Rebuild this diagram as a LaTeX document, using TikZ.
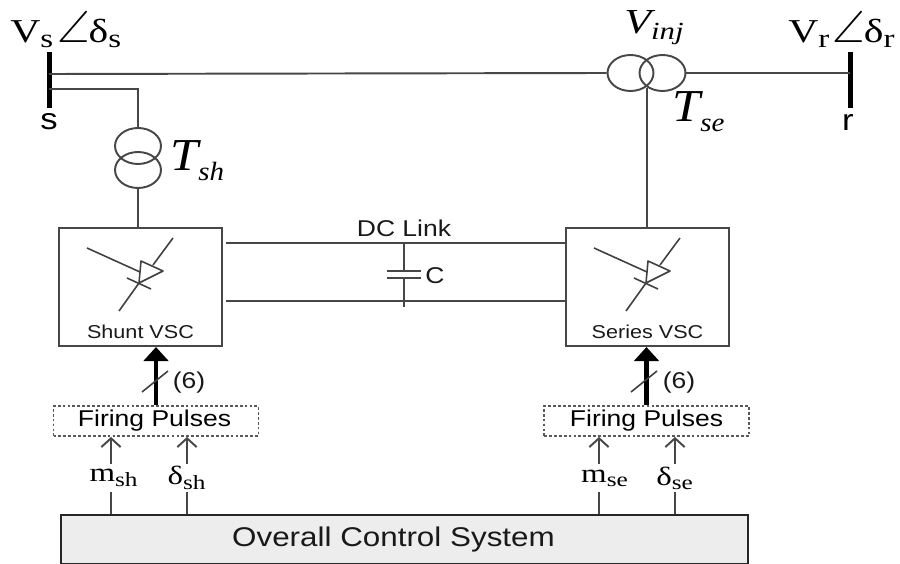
\documentclass[tikz,border=0pt]{standalone}
\usepackage{fontspec}
\usepackage{amssymb}
\setsansfont[FakeStretch=1.16]{Liberation Sans}
\newfontfamily\serifface[FakeStretch=1.25]{Liberation Serif}
\newfontfamily\italface[FakeStretch=1.1]{Liberation Serif}
\usetikzlibrary{shapes.geometric,arrows.meta}
\newcommand{\lowtext}[2]{$_{\mbox{\fontsize{#1}{#1}\selectfont #2}}$}
\newcommand{\dropsub}[1]{\raisebox{-0.2cm}{\fontsize{15}{15}\selectfont #1}}

\begin{document}
\begin{tikzpicture}[x=0.02cm,y=-0.02cm,
    wire/.style={draw=black!72,line width=1.1pt},
    winding/.style={ellipse,draw=black!72,line width=1.1pt,inner sep=0pt,minimum width=0.92cm,minimum height=0.72cm},
    busbar/.style={fill=black,inner sep=0pt,minimum width=0.1cm,minimum height=1.14cm},
    vscbox/.style={draw=black!72,line width=1.2pt,minimum width=3.26cm,minimum height=2.36cm,inner sep=0pt},
    firebox/.style={draw=black!65,line width=1.1pt,dash pattern=on 1.6pt off 1.2pt,minimum width=4.1cm,minimum height=0.6cm,inner sep=0pt,text=black,font=\sffamily\fontsize{13}{15}\selectfont},
    ctrlbox/.style={draw=black!85,fill=black!7,line width=1.5pt,minimum width=13.74cm,minimum height=0.98cm,inner sep=0pt,text=black!90,font=\sffamily\fontsize{15.4}{17}\selectfont},
    sflabel/.style={inner sep=0pt,text=black!90,font=\sffamily\fontsize{13}{15}\selectfont},
    busname/.style={inner sep=0pt,font=\sffamily\fontsize{17}{19}\selectfont},
    vlabel/.style={inner sep=0pt,anchor=base west,font=\serifface\fontsize{19}{21}\selectfont},
    tlabel/.style={inner sep=0pt,anchor=base west,font=\italface\itshape\fontsize{26}{28}\selectfont},
    siglabel/.style={inner sep=0pt,minimum height=0.56cm,font=\serifface\fontsize{15}{17}\selectfont},
    bigarrow/.style={line width=2.8pt,black,-{Triangle[width=14pt,length=8pt]}},
    thinarrow/.style={wire,-{Straight Barb[length=5pt,width=11pt]}}]
    \useasboundingbox (0,0) rectangle (900,564);

    % buses and transformers
    \node[busbar] (busS) at (49,80) {};
    \node[busbar] (busR) at (850,80) {};
    \node[busname] (nameS) at (49,122) {s};
    \node[busname] (nameR) at (848,122) {r};
    \node[winding] (tsh1) at (138,146) {};
    \node[winding] (tsh2) at (138,170) {};
    \node[winding] (tse1) at (630.5,73) {};
    \node[winding] (tse2) at (662.5,73) {};
    \coordinate (lineS) at (49,74);
    \coordinate (tapS) at (49,89);
    \coordinate (lineR) at (850,73);
    \coordinate (tseJoin) at (647,88);

    % converters, pulses and control
    \node[vscbox] (shvsc) at (140.5,287) {};
    \node[vscbox] (sevsc) at (647.5,287) {};
    \node[sflabel,font=\sffamily\fontsize{10.6}{12}\selectfont] (shname) at (140.5,332) {Shunt VSC};
    \node[sflabel,font=\sffamily\fontsize{10.6}{12}\selectfont] (sename) at (647.5,332) {Series VSC};
    \node[firebox] (firesh) at (156,421) {\raisebox{-0.05cm}{Firing Pulses}\hspace*{0.06cm}};
    \node[firebox] (firese) at (646.5,421) {\raisebox{-0.05cm}{Firing Pulses}};
    \node[ctrlbox] (ctrl) at (404.5,539.5) {\raisebox{-0.04cm}{Overall Control System}\hspace*{0.44cm}};

    % line labels
    \node[vlabel] (vs) at (10,43) {V\lowtext{15}{s}\hspace{0.06cm}\scalebox{1.35}{$\angle$}\hspace{-0.02cm}δ\lowtext{15}{s}};
    \node[vlabel] (vr) at (788,43) {V\lowtext{15}{r}\hspace{0.04cm}\scalebox{1.35}{$\angle$}\hspace{-0.02cm}δ\lowtext{15}{r}};
    \node[vlabel,font=\serifface\itshape\fontsize{20}{22}\selectfont] (vinj) at (624,34) {V\lowtext{14}{inj}};
    \node[tlabel] (tshname) at (170,171) {T\dropsub{sh}};
    \node[tlabel] (tsename) at (672,122) {T\dropsub{se}};
    \node[sflabel] (dclabel) at (404,228) {DC Link};
    \node[sflabel] (clabel) at (435,276) {C};
    \node[sflabel] (nsh) at (189,383) {(6)};
    \node[sflabel] (nse) at (679,383) {(6)};
    \node[siglabel] (msh) at (111,478) {\hspace*{0.12cm}m\lowtext{11.5}{sh}};
    \node[siglabel] (dsh) at (187,478) {δ\lowtext{11.5}{sh}};
    \node[siglabel] (mse) at (599,478) {\hspace*{0.24cm}m\lowtext{11.5}{se}};
    \node[siglabel] (dse) at (675,478) {δ\lowtext{11.5}{se}};

    % network wiring
    \draw[wire] (lineS) -- (tse1.west);
    \draw[wire] (tse2.east) -- (lineR);
    \draw[wire] (tapS) -| (tsh1.north);
    \draw[wire] (tsh2.south) -- (shvsc.north -| tsh2.south);
    \draw[wire] (tseJoin) -- (sevsc.north -| tseJoin);

    % dc link
    \coordinate (capTop) at (404,243);
    \coordinate (capBot) at (404,307);
    \draw[wire,shorten <=0.06cm] (shvsc.east |- capTop) -- (sevsc.west |- capTop);
    \draw[wire,shorten <=0.06cm] (shvsc.east |- 0,301) -- (sevsc.west |- 0,301);
    \draw[wire] (capTop) -- (404,271);
    \draw[wire] (404,278) -- (capBot);
    \draw[wire] (387,271) -- (421,271);
    \draw[wire] (387,278) -- (421,278);

    % thyristor symbols
    \foreach \sx in {0,507} {
        \begin{scope}[xshift=\sx*0.02cm,draw=black!75,line width=0.9pt]
            \draw (87,248) -- (140,272);
            \draw (173,238) -- (153,265);
            \draw[line join=round] (141,261) -- (163,271) -- (139,283) -- cycle;
            \draw (139,283) -- (119,311);
            \draw (127,278) -- (151,289);
        \end{scope}
    }

    % gate signals
    \draw[bigarrow] (firesh.north) -- (firesh.north |- shvsc.south);
    \draw[bigarrow] (firese.north) -- (firese.north |- sevsc.south);
    \draw[line width=0.9pt,black!75] (142,392) -- (168,371);
    \draw[line width=0.9pt,black!75] (631,392) -- (657,371);
    \foreach \sig/\fire in {msh/firesh,dsh/firesh,mse/firese,dse/firese} {
        \draw[wire] (\sig) -- (\sig |- ctrl.north);
        \draw[thinarrow] (\sig) -- (\sig |- \fire.south);
    }
\end{tikzpicture}
\end{document}
